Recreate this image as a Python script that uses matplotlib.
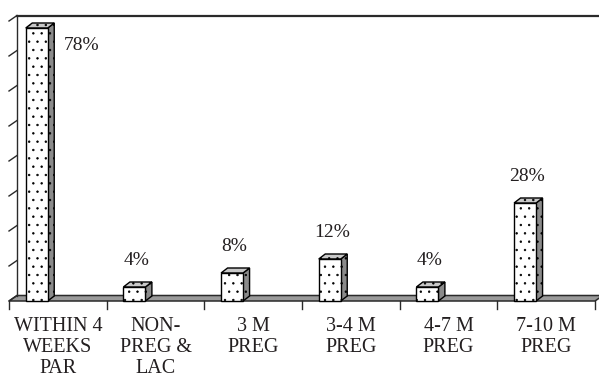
import matplotlib
matplotlib.use("Agg")
import matplotlib.pyplot as plt
from matplotlib.patches import Polygon

# ---- data ----
categories = ["WITHIN 4\nWEEKS\nPAR", "NON-\nPREG &\nLAC", "3 M\nPREG",
              "3-4 M\nPREG", "4-7 M\nPREG", "7-10 M\nPREG"]
values = [78, 4, 8, 12, 4, 28]
labels = ["78%", "4%", "8%", "12%", "4%", "28%"]
y_max = 80
y_step = 10

# ---- style ----
plt.rcParams['font.family'] = ['Liberation Serif', 'DejaVu Serif']
plt.rcParams['hatch.linewidth'] = 0.5
TXT = '#231f20'
W, H, DPI = 599, 383, 100

fig = plt.figure(figsize=(W / DPI, H / DPI), dpi=DPI)
# front plane: x [-0.5, 5.5] -> px 9..595 ; y [0, 80] -> px 301..21
px_per_x = (595 - 9) / len(categories)
px_per_y = (301 - 21) / y_max
ax = fig.add_axes([9 / W, (H - 301) / H, 586 / W, 280 / H])
ax.set_xlim(-0.5, len(categories) - 0.5)
ax.set_ylim(0, y_max)
ax.axis('off')

# depth offsets (pixels -> data units)
dxw, dyw = 8 / px_per_x, 5.5 / px_per_y     # wall / floor depth
bdx, bdy = 6.5 / px_per_x, 5 / px_per_y     # bar depth
bar_off = -0.216
bar_w = 22 / px_per_x

n = len(categories)
lw = 1.0
LC = '#2a2a2a'
# floor
floor = Polygon([(-0.5, 0), (n - 0.5, 0), (n - 0.5 + dxw, dyw), (-0.5 + dxw, dyw)],
                closed=True, facecolor='#9a9a9a', edgecolor=LC, lw=1.1,
                clip_on=False, zorder=1)
ax.add_patch(floor)
# left wall back edge and top edge
ax.plot([-0.5 + dxw, -0.5 + dxw], [dyw, y_max + dyw], color=LC, lw=lw,
        clip_on=False, zorder=1)
ax.plot([-0.5 + dxw, n - 0.5 + 2 * dxw], [y_max + dyw, y_max + dyw], color=LC,
        lw=1.6, clip_on=False, zorder=1)
# slanted value ticks on left wall
for v in range(0, y_max + 1, y_step):
    ax.plot([-0.5, -0.5 + dxw], [v, v + dyw], color=LC, lw=lw,
            clip_on=False, zorder=1)
# category ticks
tick_len = 8 / px_per_y
for k in range(n + 1):
    ax.plot([k - 0.5, k - 0.5], [0, -tick_len], color=LC, lw=lw,
            clip_on=False, zorder=1)

# bars: front faces via bar()
xs = [i + bar_off for i in range(n)]
ax.bar(xs, values, width=bar_w, color='white', edgecolor='black', hatch='..',
       lw=1.0, zorder=3, clip_on=False)
for x, v in zip(xs, values):
    x0, x1 = x - bar_w / 2, x + bar_w / 2
    side = Polygon([(x1, 0), (x1 + bdx, bdy), (x1 + bdx, v + bdy), (x1, v)],
                   closed=True, facecolor='#8a8a8a', edgecolor='black', hatch='..',
                   lw=1.0, zorder=2, clip_on=False)
    top = Polygon([(x0, v), (x1, v), (x1 + bdx, v + bdy), (x0 + bdx, v + bdy)],
                  closed=True, facecolor='#c8c8c8', edgecolor='black', hatch='..',
                  lw=1.0, zorder=2, clip_on=False)
    ax.add_patch(side)
    ax.add_patch(top)

# value labels
for x, v, lab in zip(xs, values, labels):
    if v + 8 > y_max:
        ax.text(x + 0.458, v - 5, lab, ha='center', va='center', fontsize=14,
                color=TXT, zorder=5)
    else:
        ax.text(x + 0.02, v + 7.5, lab, ha='center', va='center', fontsize=14,
                color=TXT, zorder=5)

# category labels
for i, c in enumerate(categories):
    ax.text(i, -4.6, c, ha='center', va='top', fontsize=14.5, color=TXT,
            linespacing=1.15, clip_on=False)

fig.savefig('out.png', dpi=DPI)
